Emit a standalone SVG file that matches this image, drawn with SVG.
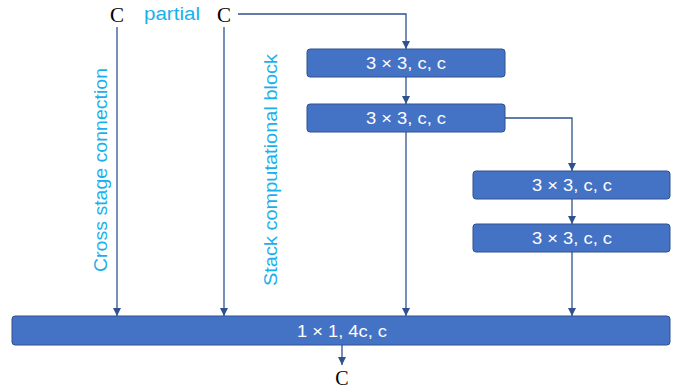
<svg xmlns="http://www.w3.org/2000/svg" width="681" height="390" viewBox="0 0 681 390">
<style>
.box{fill:#4472C4;stroke:#2F528F;stroke-width:1}
.bt{font-family:"Liberation Sans",Arial,sans-serif;font-size:17px;fill:#ffffff;text-anchor:middle}
.ln{fill:none;stroke:#2F528F;stroke-width:1.3}
.c{font-family:"Liberation Serif","Times New Roman",serif;font-size:21px;fill:#000;text-anchor:middle}
.lbl{font-family:"Liberation Sans",Arial,sans-serif;font-size:18px;fill:#1AB0EC}
</style>
<defs>
<marker id="ah" viewBox="0 0 10 10" refX="10" refY="5" markerWidth="8" markerHeight="8" markerUnits="userSpaceOnUse" orient="auto">
<path d="M0,0 L10,5 L0,10 z" fill="#2F528F"/>
</marker>
</defs>
<g id="connectors">
<line class="ln" x1="117" y1="27" x2="117" y2="316" marker-end="url(#ah)"/>
<line class="ln" x1="224" y1="27" x2="224" y2="316" marker-end="url(#ah)"/>
<polyline class="ln" points="238,14 406,14 406,49" marker-end="url(#ah)"/>
<line class="ln" x1="406" y1="77" x2="406" y2="104" marker-end="url(#ah)"/>
<polyline class="ln" points="505,118 572,118 572,171" marker-end="url(#ah)"/>
<line class="ln" x1="572" y1="199" x2="572" y2="224" marker-end="url(#ah)"/>
<line class="ln" x1="406" y1="132" x2="406" y2="316" marker-end="url(#ah)"/>
<line class="ln" x1="572" y1="252" x2="572" y2="316" marker-end="url(#ah)"/>
<line class="ln" x1="342" y1="345" x2="342" y2="365" marker-end="url(#ah)"/>
</g>
<g id="in1"><text class="c" x="117" y="22">C</text></g>
<g id="in2"><text class="c" x="224" y="22">C</text></g>
<g id="partial"><text class="lbl" x="144" y="20" textLength="56" lengthAdjust="spacingAndGlyphs">partial</text></g>
<g id="lbl-cross"><text class="lbl" transform="translate(107,272) rotate(-90)" textLength="204" lengthAdjust="spacingAndGlyphs">Cross stage connection</text></g>
<g id="lbl-stack"><text class="lbl" transform="translate(277,286) rotate(-90)" textLength="232" lengthAdjust="spacingAndGlyphs">Stack computational block</text></g>
<g id="b1"><rect class="box" x="307" y="49" width="198" height="28" rx="3"/><text class="bt" x="406" y="69" textLength="80" lengthAdjust="spacingAndGlyphs">3 × 3, c, c</text></g>
<g id="b2"><rect class="box" x="307" y="104" width="198" height="28" rx="3"/><text class="bt" x="406" y="124" textLength="80" lengthAdjust="spacingAndGlyphs">3 × 3, c, c</text></g>
<g id="b3"><rect class="box" x="473" y="171" width="197" height="28" rx="3"/><text class="bt" x="572" y="191" textLength="80" lengthAdjust="spacingAndGlyphs">3 × 3, c, c</text></g>
<g id="b4"><rect class="box" x="473" y="224" width="197" height="28" rx="3"/><text class="bt" x="572" y="244" textLength="80" lengthAdjust="spacingAndGlyphs">3 × 3, c, c</text></g>
<g id="b5"><rect class="box" x="12" y="316" width="658" height="29" rx="3"/><text class="bt" x="342" y="337" textLength="90" lengthAdjust="spacingAndGlyphs">1 × 1, 4c, c</text></g>
<g id="out"><text class="c" x="342" y="385" style="font-size:20px">C</text></g>
</svg>
